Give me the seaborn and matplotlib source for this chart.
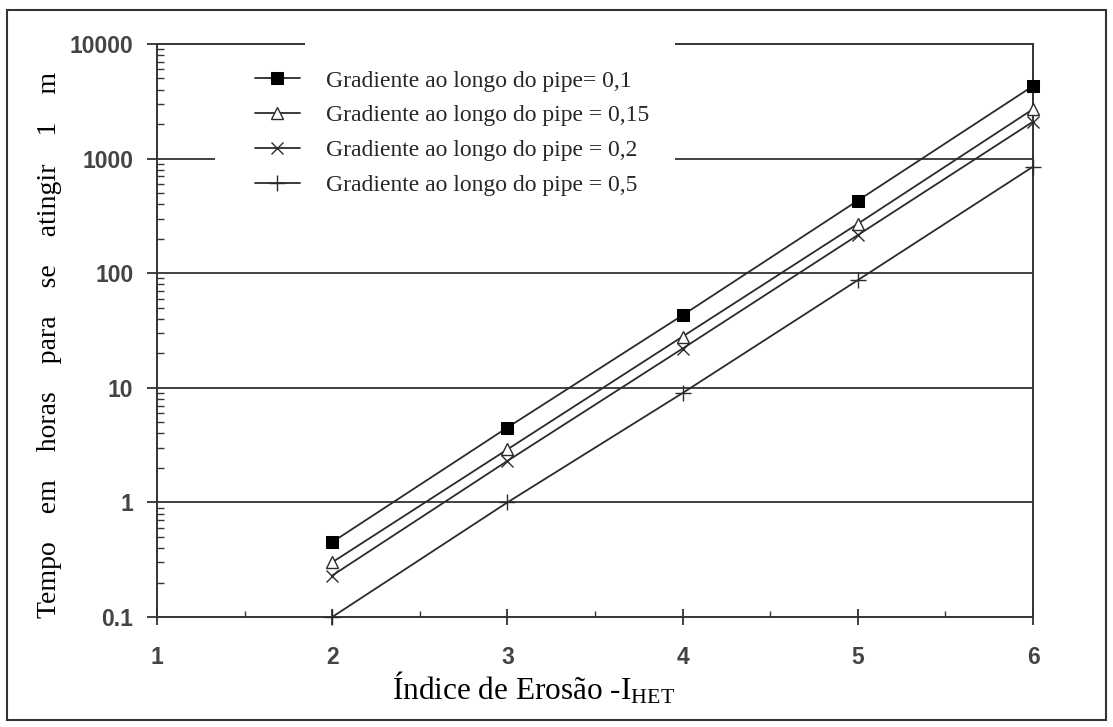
import numpy as np
import pandas as pd
import matplotlib
matplotlib.use("Agg")
import matplotlib.pyplot as plt
from matplotlib.patches import Rectangle
from matplotlib.ticker import FixedLocator, LogLocator, NullFormatter
import seaborn as sns

# ---- data ----
indice = [2, 3, 4, 5, 6]
grad_01 = [0.45, 4.5, 43, 430, 4300]
grad_015 = [0.30, 2.9, 28, 270, 2700]
grad_02 = [0.23, 2.3, 22, 215, 2100]
grad_05 = [0.10, 1.0, 9.0, 87, 850]
labels = ["Gradiente ao longo do pipe= 0,1",
          "Gradiente ao longo do pipe = 0,15",
          "Gradiente ao longo do pipe = 0,2",
          "Gradiente ao longo do pipe = 0,5"]
y_ticks = [0.1, 1, 10, 100, 1000, 10000]
y_ticklabels = ["0.1", "1", "10", "100", "1000", "10000"]
x_ticks = [1, 2, 3, 4, 5, 6]

sns.set_theme(style="white")
plt.rcParams['font.family'] = ['Liberation Sans', 'DejaVu Sans']
plt.rcParams['mathtext.fontset'] = 'custom'
plt.rcParams['mathtext.rm'] = 'Liberation Serif'
plt.rcParams['mathtext.it'] = 'Liberation Serif:italic'

W, H = 1113, 727
fig = plt.figure(figsize=(W / 100, H / 100), dpi=100)
fig.patch.set_facecolor("white")
L, R, T, B = 157, 1033, 44, 617
ax = fig.add_axes([L / W, 1 - B / H, (R - L) / W, (B - T) / H])

dark = "#2b2b2b"
styles = [
    dict(marker="s", markersize=8, markerfacecolor="black", markeredgecolor="black"),
    dict(marker="^", markersize=9, markerfacecolor="white", markeredgecolor=dark, markeredgewidth=1.0),
    dict(marker="x", markersize=9, markeredgecolor=dark, markeredgewidth=1.0),
    dict(marker="+", markersize=12, markeredgecolor=dark, markeredgewidth=1.0),
]
series = [grad_01, grad_015, grad_02, grad_05]
for vals, lab, st in zip(series, labels, styles):
    df = pd.DataFrame({"x": indice, "y": vals})
    sns.lineplot(data=df, x="x", y="y", ax=ax, color=dark, linewidth=1.3,
                 label=lab, zorder=3, clip_on=False, **st)

ax.set_yscale("log")
ax.set_xlim(1, 6)
ax.set_ylim(0.1, 10000)

# grid lines at decades
for yv in [1, 10, 100, 1000]:
    ax.axhline(yv, color="#333333", linewidth=1.3, zorder=1)

ax.yaxis.set_major_locator(FixedLocator(y_ticks))
ax.set_yticklabels(y_ticklabels)
ax.yaxis.set_minor_locator(LogLocator(base=10, subs=np.arange(2, 10)))
ax.yaxis.set_minor_formatter(NullFormatter())
ax.set_xticks(x_ticks)
ax.set_xticklabels([str(v) for v in x_ticks])
ax.set_xticks([1.5, 2.5, 3.5, 4.5, 5.5], minor=True)

tick_color = "#333333"
ax.tick_params(axis="y", which="major", direction="out", length=7, width=1.3,
               color=tick_color, left=True, pad=10, labelsize=16.5, labelcolor="#444444")
ax.tick_params(axis="y", which="minor", direction="in", length=5, width=1.0,
               color=tick_color, left=True)
ax.tick_params(axis="x", which="major", direction="inout", length=12, width=1.3,
               color=tick_color, bottom=True, pad=15, labelsize=16.5, labelcolor="#444444")
ax.tick_params(axis="x", which="minor", direction="in", length=4, width=1.0,
               color=tick_color, bottom=True)
for lab in ax.get_xticklabels() + ax.get_yticklabels():
    lab.set_fontweight("bold")

for sp in ax.spines.values():
    sp.set_color("#333333")
    sp.set_linewidth(1.4)

ax.set_xlabel("")
ax.set_ylabel("")

# axis titles
fig.text(392 / W, 1 - 700 / H, r"Índice de Erosão -I$_{\mathrm{HET}}$",
         fontsize=22.5, family="Liberation Serif", color="black",
         ha="left", va="baseline")
fig.text(50 / W, 1 - 345 / H, "Tempo    em    horas    para    se    atingir    1    m",
         fontsize=20, family="Liberation Serif", color="black",
         rotation=90, ha="center", va="center")

# white area behind legend
def fig_rect(x0, y0, x1, y1, **kw):
    return Rectangle((x0 / W, 1 - y1 / H), (x1 - x0) / W, (y1 - y0) / H,
                     transform=fig.transFigure, **kw)

ax.add_patch(fig_rect(305, 38, 675, 205, facecolor="white", edgecolor="none",
                      zorder=4, clip_on=False))
ax.add_patch(fig_rect(215, 120, 675, 205, facecolor="white", edgecolor="none",
                      zorder=4, clip_on=False))

leg = ax.legend(loc="upper left", bbox_to_anchor=(255 / W, 1 - 70 / H),
                bbox_transform=fig.transFigure, frameon=False,
                prop={"family": "Liberation Serif", "size": 17},
                handlelength=1.9, handletextpad=1.1, labelspacing=0.56,
                borderaxespad=0, borderpad=0)
leg.set_zorder(6)

# outer border
fig.patches.append(fig_rect(7, 10, 1106, 720, fill=False, edgecolor="#333333",
                            linewidth=1.5))

fig.savefig("out.png", dpi=100, facecolor="white")
